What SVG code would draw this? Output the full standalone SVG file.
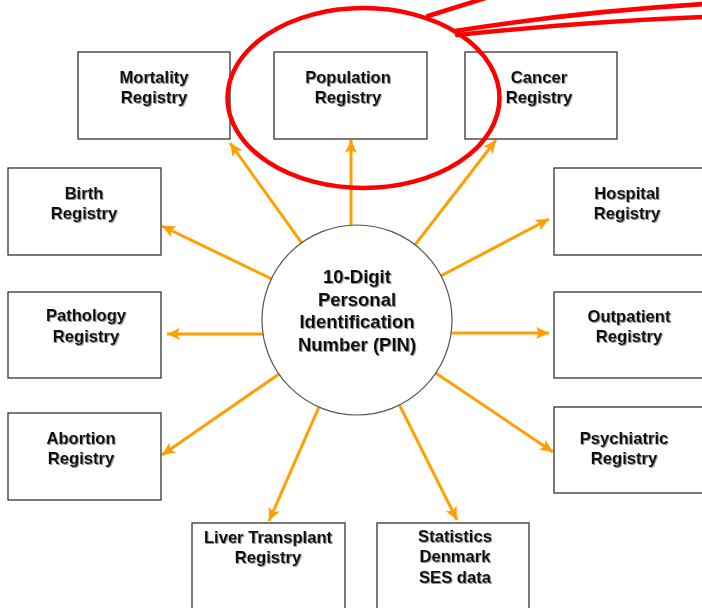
<svg xmlns="http://www.w3.org/2000/svg" width="702" height="608" viewBox="0 0 702 608">
<defs>
<filter id="sh" x="-10%" y="-10%" width="130%" height="140%">
<feDropShadow dx="1" dy="1" stdDeviation="0.6" flood-color="#777" flood-opacity="0.8"/>
</filter>
<marker id="ah" markerUnits="userSpaceOnUse" markerWidth="14" markerHeight="12" refX="13" refY="6" orient="auto">
<path d="M0,0 L13,6 L0,12 L3,6 Z" fill="#FFA000"/>
</marker>
</defs>
<style>
.box{fill:#fff;stroke:#333;stroke-width:1.3}
.t{font-family:"Liberation Sans",Arial,sans-serif;font-weight:bold;font-size:16.6px;fill:#111;text-anchor:middle;filter:url(#sh)}
.c{font-size:18.5px}
.arr{stroke:#FFA000;stroke-width:3;fill:none;marker-end:url(#ah)}
.red{stroke:#FF0000;stroke-width:4.5;fill:none;stroke-linecap:round}
</style>
<rect width="702" height="608" fill="#fff"/>
<g id="connectors">
<line class="arr" x1="351" y1="320" x2="351" y2="140"/>
<line class="arr" x1="357" y1="320" x2="230" y2="143"/>
<line class="arr" x1="357" y1="320" x2="496" y2="140"/>
<line class="arr" x1="357" y1="320" x2="162" y2="226"/>
<line class="arr" x1="357" y1="334" x2="167" y2="334"/>
<line class="arr" x1="357" y1="320" x2="162" y2="455"/>
<line class="arr" x1="357" y1="320" x2="549" y2="219"/>
<line class="arr" x1="357" y1="333" x2="549" y2="333"/>
<line class="arr" x1="357" y1="320" x2="553" y2="452"/>
<line class="arr" x1="357" y1="320" x2="269" y2="521"/>
<line class="arr" x1="357" y1="320" x2="457" y2="520"/>
</g>
<g id="pin">
<circle cx="357" cy="320" r="95" fill="#fff" stroke="#555" stroke-width="1.2"/>
<text class="t c" x="357" y="283">10-Digit</text>
<text class="t c" x="357" y="305.5">Personal</text>
<text class="t c" x="357" y="328">Identification</text>
<text class="t c" x="357" y="351">Number (PIN)</text>
</g>
<g id="mortality">
<rect class="box" x="78" y="52" width="152" height="87"/>
<text class="t" x="154" y="83">Mortality</text>
<text class="t" x="154" y="103">Registry</text>
</g>
<g id="population">
<rect class="box" x="274" y="52" width="153" height="87"/>
<text class="t" x="348" y="83">Population</text>
<text class="t" x="348" y="103">Registry</text>
</g>
<g id="cancer">
<rect class="box" x="465" y="52" width="152" height="87"/>
<text class="t" x="539" y="83">Cancer</text>
<text class="t" x="539" y="103">Registry</text>
</g>
<g id="birth">
<rect class="box" x="8" y="168" width="153" height="87"/>
<text class="t" x="84" y="199">Birth</text>
<text class="t" x="84" y="219">Registry</text>
</g>
<g id="hospital">
<rect class="box" x="554" y="168" width="152" height="87"/>
<text class="t" x="627" y="199">Hospital</text>
<text class="t" x="627" y="219">Registry</text>
</g>
<g id="pathology">
<rect class="box" x="8" y="292" width="153" height="86"/>
<text class="t" x="86" y="321">Pathology</text>
<text class="t" x="86" y="342">Registry</text>
</g>
<g id="outpatient">
<rect class="box" x="554" y="292" width="152" height="86"/>
<text class="t" x="629" y="322">Outpatient</text>
<text class="t" x="629" y="342">Registry</text>
</g>
<g id="abortion">
<rect class="box" x="8" y="413" width="153" height="87"/>
<text class="t" x="81" y="444">Abortion</text>
<text class="t" x="81" y="464">Registry</text>
</g>
<g id="psychiatric">
<rect class="box" x="554" y="407" width="152" height="86"/>
<text class="t" x="624" y="444">Psychiatric</text>
<text class="t" x="624" y="464">Registry</text>
</g>
<g id="liver">
<rect class="box" x="192" y="523" width="153" height="90"/>
<text class="t" x="268" y="543">Liver Transplant</text>
<text class="t" x="268" y="563">Registry</text>
</g>
<g id="statistics">
<rect class="box" x="377" y="523" width="152" height="90"/>
<text class="t" x="455" y="542">Statistics</text>
<text class="t" x="455" y="562">Denmark</text>
<text class="t" x="455" y="583">SES data</text>
</g>
<g id="highlight">
<ellipse class="red" cx="363.5" cy="98" rx="136" ry="90"/>
<path class="red" d="M428,16 L492,-4"/>
<path class="red" d="M455,31 Q575,12 704,4"/>
<path class="red" d="M457,35 Q580,22 704,17"/>
</g>
</svg>
